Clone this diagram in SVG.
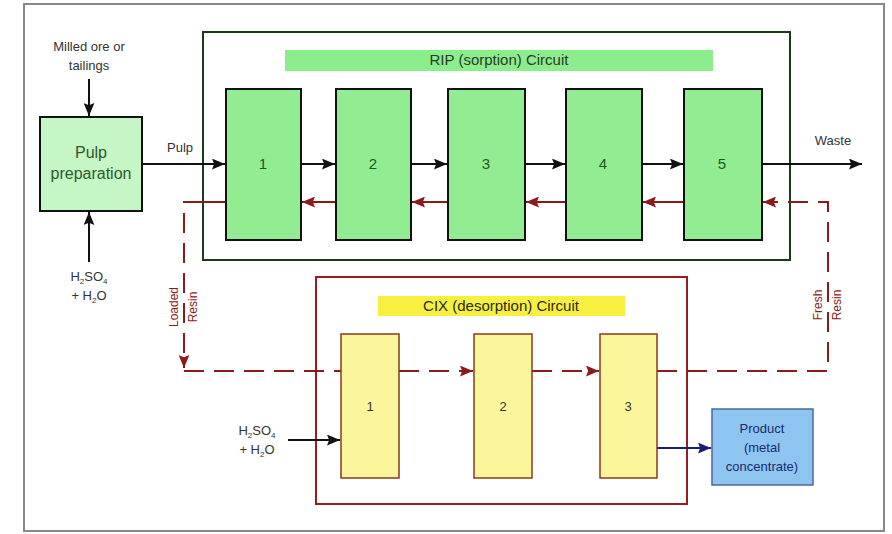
<svg xmlns="http://www.w3.org/2000/svg" width="892" height="534" viewBox="0 0 892 534">
<style>
text{font-family:"Liberation Sans",Arial,sans-serif;}
.lbl{font-size:13px;fill:#333;text-anchor:middle;}
.num{font-size:15px;fill:#1e5a1e;text-anchor:middle;}
.gbox{fill:#92ec92;stroke:#111;stroke-width:2;}
.ybox{fill:#fbf59c;stroke:#8a3a1a;stroke-width:1.5;}
.blk{stroke:#111;stroke-width:2;fill:none;}
.red{stroke:#8b1a1a;stroke-width:2;fill:none;}
.dash{stroke-dasharray:20,10;}
.sub{font-size:8px;}
</style>
<defs>
<marker id="ab" viewBox="0 0 12 10" refX="12" refY="5" markerWidth="13" markerHeight="11" markerUnits="userSpaceOnUse" orient="auto"><path d="M0,0 L12,5 L0,10 L2,5 z" fill="#111"/></marker>
<marker id="ar" viewBox="0 0 12 10" refX="12" refY="5" markerWidth="13" markerHeight="11" markerUnits="userSpaceOnUse" orient="auto"><path d="M0,0 L12,5 L0,10 L2,5 z" fill="#8b1a1a"/></marker>
<marker id="an" viewBox="0 0 12 10" refX="12" refY="5" markerWidth="13" markerHeight="11" markerUnits="userSpaceOnUse" orient="auto"><path d="M0,0 L12,5 L0,10 L2,5 z" fill="#1a1a80"/></marker>
</defs>
<rect x="0" y="0" width="892" height="534" fill="#fff"/>
<rect x="24" y="4" width="860" height="527" fill="#fff" stroke="#888" stroke-width="2"/>

<g id="rip-circuit">
<rect x="203" y="32" width="587" height="228" fill="none" stroke="#1a3a1a" stroke-width="2"/>
<rect x="285" y="50" width="428" height="21" fill="#8ced8c"/>
<text x="499" y="65" font-size="15" fill="#2a3a2a" text-anchor="middle">RIP (sorption) Circuit</text>
</g>
<g id="cix-circuit">
<rect x="316" y="277" width="371" height="227" fill="none" stroke="#9b1c1c" stroke-width="2"/>
<rect x="378" y="296" width="247" height="20" fill="#f8f040"/>
<text x="501" y="311" font-size="15" fill="#2a2a1a" text-anchor="middle">CIX (desorption) Circuit</text>
</g>

<g id="connectors">
<path class="blk" d="M89,79 V116" marker-end="url(#ab)"/>
<path class="blk" d="M89,262 V212" marker-end="url(#ab)"/>
<path class="blk" d="M142,164 H225" marker-end="url(#ab)"/>
<path class="blk" d="M301,164 H335" marker-end="url(#ab)"/>
<path class="blk" d="M411,164 H447" marker-end="url(#ab)"/>
<path class="blk" d="M525,164 H565" marker-end="url(#ab)"/>
<path class="blk" d="M642,164 H683" marker-end="url(#ab)"/>
<path class="blk" d="M762,164 H862" marker-end="url(#ab)"/>
<path class="red" d="M336,202 H302" marker-end="url(#ar)"/>
<path class="red" d="M448,202 H412" marker-end="url(#ar)"/>
<path class="red" d="M566,202 H526" marker-end="url(#ar)"/>
<path class="red" d="M684,202 H643" marker-end="url(#ar)"/>
<path class="red" d="M226,202 H203"/>
<path class="red dash" d="M203,202 H184 V368" marker-end="url(#ar)"/>
<path class="red dash" d="M184,371 H341"/>
<path class="red dash" d="M399,371 H473" marker-end="url(#ar)"/>
<path class="red dash" d="M532,371 H599" marker-end="url(#ar)"/>
<path class="red dash" d="M657,371 H828 V202 H763" marker-end="url(#ar)"/>
<path class="blk" d="M288,440 H340" marker-end="url(#ab)"/>
<path d="M657,448 H711" stroke="#1a1a80" stroke-width="2" fill="none" marker-end="url(#an)"/>
</g>

<g id="labels">
<text class="lbl" x="89" y="51">Milled ore or</text>
<text class="lbl" x="89" y="70">tailings</text>
<text class="lbl" x="89" y="281">H<tspan class="sub" dy="3">2</tspan><tspan dy="-3">SO</tspan><tspan class="sub" dy="3">4</tspan></text>
<text class="lbl" x="89" y="300">+ H<tspan class="sub" dy="3">2</tspan><tspan dy="-3">O</tspan></text>
<text class="lbl" x="180" y="152">Pulp</text>
<text class="lbl" x="833" y="145">Waste</text>
<text class="lbl" x="257" y="435">H<tspan class="sub" dy="3">2</tspan><tspan dy="-3">SO</tspan><tspan class="sub" dy="3">4</tspan></text>
<text class="lbl" x="257" y="454">+ H<tspan class="sub" dy="3">2</tspan><tspan dy="-3">O</tspan></text>
<rect x="186" y="288" width="12" height="38" fill="#fff"/>
<text font-size="12" fill="#8b1a1a" text-anchor="middle" transform="translate(178,307) rotate(-90)">Loaded</text>
<text font-size="12" fill="#8b1a1a" text-anchor="middle" transform="translate(197,307) rotate(-90)">Resin</text>
<rect x="830" y="285" width="12" height="38" fill="#fff"/>
<text font-size="12" fill="#8b1a1a" text-anchor="middle" transform="translate(822,305) rotate(-90)">Fresh</text>
<text font-size="12" fill="#8b1a1a" text-anchor="middle" transform="translate(841,305) rotate(-90)">Resin</text>
</g>

<g id="pulp-prep">
<rect x="40" y="117" width="102" height="94" fill="#c6f5c6" stroke="#111" stroke-width="2"/>
<text x="91" y="158" font-size="16" fill="#2d5a2d" text-anchor="middle">Pulp</text>
<text x="91" y="179" font-size="16" fill="#2d5a2d" text-anchor="middle">preparation</text>
</g>

<g id="rip1"><rect class="gbox" x="226" y="89" width="75" height="151"/><text class="num" x="263" y="169">1</text></g>
<g id="rip2"><rect class="gbox" x="336" y="89" width="75" height="151"/><text class="num" x="373" y="169">2</text></g>
<g id="rip3"><rect class="gbox" x="448" y="89" width="77" height="151"/><text class="num" x="486" y="169">3</text></g>
<g id="rip4"><rect class="gbox" x="566" y="89" width="76" height="151"/><text class="num" x="603" y="169">4</text></g>
<g id="rip5"><rect class="gbox" x="684" y="89" width="78" height="151"/><text class="num" x="722" y="169">5</text></g>

<g id="cix1"><rect class="ybox" x="341" y="334" width="58" height="144"/><text x="370" y="411" font-size="13" fill="#333" text-anchor="middle">1</text></g>
<g id="cix2"><rect class="ybox" x="474" y="334" width="58" height="144"/><text x="503" y="411" font-size="13" fill="#333" text-anchor="middle">2</text></g>
<g id="cix3"><rect class="ybox" x="600" y="334" width="57" height="144"/><text x="628" y="411" font-size="13" fill="#333" text-anchor="middle">3</text></g>

<g id="product">
<rect x="712" y="409" width="101" height="76" fill="#8ec4f0" stroke="#4a6a9a" stroke-width="1.5"/>
<text x="762" y="433" font-size="13" fill="#1a2a70" text-anchor="middle">Product</text>
<text x="762" y="452" font-size="13" fill="#1a2a70" text-anchor="middle">(metal</text>
<text x="762" y="471" font-size="13" fill="#1a2a70" text-anchor="middle">concentrate)</text>
</g>
</svg>
